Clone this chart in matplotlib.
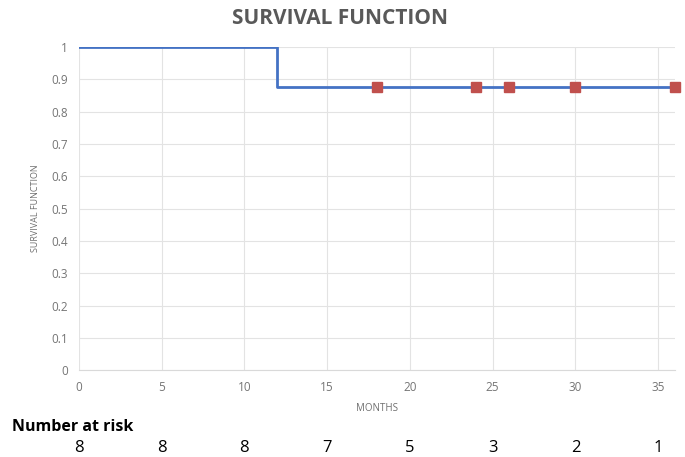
import matplotlib.pyplot as plt

plt.rcParams['font.family'] = ['Open Sans', 'DejaVu Sans']

# survival curve (step) and censored points
step_months = [0, 12, 36]
step_surv = [1.0, 0.875, 0.875]
cens_months = [18, 24, 26, 30, 36]
cens_surv = [0.875, 0.875, 0.875, 0.875, 0.875]
risk_months = [0, 5, 10, 15, 20, 25, 30, 35]
at_risk = [8, 8, 8, 7, 5, 3, 2, 1]

fig = plt.figure(figsize=(6.85, 4.57), dpi=100)
ax = fig.add_axes([0.115, 0.19, 0.87, 0.707])

ax.step(step_months, step_surv, where='post', color='#4472C4', lw=2, zorder=3)
ax.plot(cens_months, cens_surv, 's', color='#C0504D', ms=6.5, zorder=4, clip_on=False)

ax.set_xlim(0, 36)
ax.set_ylim(0, 1)
ax.set_xticks(range(0, 36, 5))
ax.set_yticks([i / 10 for i in range(11)])
ax.set_yticklabels(['0', '0.1', '0.2', '0.3', '0.4', '0.5', '0.6', '0.7', '0.8', '0.9', '1'])
ax.grid(True, color='#e3e3e3', lw=0.8)
ax.set_axisbelow(True)
for s in ['top', 'right', 'left']:
    ax.spines[s].set_visible(False)
ax.spines['bottom'].set_color('#d9d9d9')
ax.tick_params(length=0, colors='#757575', labelsize=8.5, pad=8)
ax.set_xlabel('MONTHS', fontsize=7, color='#6f6f6f', labelpad=6)
ax.set_ylabel('SURVIVAL FUNCTION', fontsize=6.5, color='#6f6f6f', labelpad=8)

fig.text(0.497, 0.96, 'SURVIVAL FUNCTION', ha='center', va='center',
         fontsize=15, fontweight='bold', color='#595959')

fig.text(0.017, 0.065, 'Number at risk', fontsize=11.5, fontweight='bold', va='center')
for m, n in zip(risk_months, at_risk):
    x = ax.transData.transform((m, 0))[0] / fig.bbox.width
    fig.text(x, 0.02, str(n), fontsize=12, ha='center', va='center')

fig.savefig('out.png')
